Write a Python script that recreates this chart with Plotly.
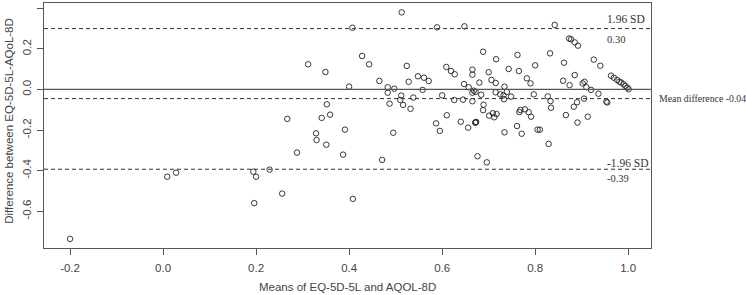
import plotly.graph_objects as go

# Means of EQ-5D-5L and AQOL-8D (x) and differences (y)
means = [-0.200, 0.009, 0.028, 0.194, 0.200, 0.196, 0.407, 0.312, 0.349, 0.428,
         0.443, 0.465, 0.400, 0.483, 0.483, 0.487, 0.352, 0.341, 0.359, 0.267,
         0.391, 0.329, 0.330, 0.351, 0.288, 0.387, 0.471, 0.229, 0.256, 0.408,
         0.513, 0.589, 0.648, 0.688, 0.524, 0.609, 0.619, 0.627, 0.665, 0.665,
         0.548, 0.561, 0.571, 0.528, 0.700, 0.716, 0.743, 0.762, 0.765, 0.706,
         0.715, 0.680, 0.647, 0.657, 0.668, 0.672, 0.684, 0.665, 0.497, 0.558,
         0.512, 0.510, 0.538, 0.516, 0.532, 0.600, 0.626, 0.645, 0.665, 0.689,
         0.688, 0.715, 0.725, 0.734, 0.732, 0.739, 0.748, 0.733, 0.766, 0.701,
         0.709, 0.717, 0.712, 0.610, 0.640, 0.672, 0.673, 0.671, 0.587, 0.495,
         0.595, 0.656, 0.676, 0.696, 0.734, 0.761, 0.842, 0.873, 0.877, 0.885,
         0.892, 0.832, 0.800, 0.862, 0.926, 0.940, 0.782, 0.790, 0.860, 0.874,
         0.885, 0.906, 0.902, 0.910, 0.920, 0.936, 0.963, 0.969, 0.976, 0.981,
         0.985, 0.990, 0.994, 0.998, 1.001, 0.797, 0.827, 0.833, 0.834, 0.890,
         0.883, 0.905, 0.953, 0.955, 0.768, 0.778, 0.786, 0.791, 0.866, 0.913,
         0.891, 0.771, 0.805, 0.810, 0.829]
diffs = [-0.736, -0.430, -0.410, -0.405, -0.430, -0.560, 0.304, 0.124, 0.086, 0.165,
         0.124, 0.042, 0.014, 0.011, -0.016, -0.070, -0.073, -0.140, -0.124, -0.145,
         -0.198, -0.216, -0.249, -0.272, -0.311, -0.321, -0.347, -0.395, -0.513, -0.539,
         0.380, 0.306, 0.311, 0.186, 0.116, 0.111, 0.091, 0.075, 0.098, 0.073,
         0.065, 0.058, 0.042, 0.038, 0.085, 0.149, 0.101, 0.170, 0.091, 0.047,
         0.032, 0.034, 0.027, 0.011, -0.006, -0.012, -0.026, -0.016, 0.004, -0.002,
         -0.030, -0.052, -0.040, -0.076, -0.095, -0.029, -0.052, -0.050, -0.058, -0.075,
         -0.102, -0.014, -0.024, 0.014, -0.029, -0.012, -0.035, -0.048, -0.111, -0.129,
         -0.117, -0.121, -0.137, -0.127, -0.159, -0.162, -0.160, -0.164, -0.167, -0.213,
         -0.204, -0.188, -0.329, -0.359, -0.211, -0.180, 0.318, 0.251, 0.247, 0.232,
         0.216, 0.178, 0.119, 0.132, 0.147, 0.117, 0.055, 0.030, 0.043, 0.021,
         0.071, 0.038, 0.030, 0.011, -0.002, -0.021, 0.068, 0.058, 0.047, 0.038,
         0.034, 0.026, 0.017, 0.009, 0.001, -0.024, -0.034, -0.057, -0.090, -0.063,
         -0.085, -0.045, -0.060, -0.064, -0.101, -0.098, -0.112, -0.134, -0.126, -0.134,
         -0.163, -0.218, -0.198, -0.198, -0.268]

mean_diff = -0.045
upper_loa = 0.300
lower_loa = -0.393

x_ticks = [-0.2, 0.0, 0.2, 0.4, 0.6, 0.8, 1.0]
x_tick_labels = ["-0.2", "0.0", "0.2", "0.4", "0.6", "0.8", "1.0"]
y_ticks = [-0.6, -0.4, -0.2, 0.0, 0.2, 0.4]
y_tick_labels = ["-0.6", "-0.4", "-0.2", "0.0", "0.2", "0.4"]

fig = go.Figure()
fig.add_trace(go.Scatter(
    x=means, y=diffs, mode="markers",
    marker=dict(symbol="circle-open", size=5.5, color="#222222", line=dict(width=0.9)),
    showlegend=False, hoverinfo="x+y"))

# reference lines
fig.add_shape(type="line", xref="paper", x0=0, x1=1, yref="y", y0=0, y1=0,
              line=dict(color="#555555", width=1.3))
for v in [upper_loa, mean_diff, lower_loa]:
    fig.add_shape(type="line", xref="paper", x0=0, x1=1, yref="y", y0=v, y1=v,
                  line=dict(color="#333333", width=1, dash="4px,3px"))

serif = "Liberation Serif, Times New Roman, serif"
ann = [
    (0.950, 0.346, "1.96 SD", 11.5),
    (0.950, 0.248, "%.2f" % upper_loa, 10.5),
    (0.950, -0.361, "-1.96 SD", 11.5),
    (0.950, -0.438, "%.2f" % -0.39, 10.5),
]
for ax_, ay_, t, fs in ann:
    fig.add_annotation(x=ax_, y=ay_, xref="x", yref="y", text=t, showarrow=False,
                       xanchor="left", yanchor="middle",
                       font=dict(family=serif, size=fs, color="#333333"))
fig.add_annotation(x=1.0095, y=mean_diff, xref="paper", yref="y",
                   text="Mean difference %.2f" % -0.04, showarrow=False,
                   xanchor="left", yanchor="middle",
                   font=dict(family=serif, size=9.8, color="#333333"))

sans = "Liberation Sans, Arial, sans-serif"
fig.update_xaxes(range=[-0.256, 1.049], tickvals=x_ticks, ticktext=x_tick_labels,
                 automargin=False,
                 showgrid=False, zeroline=False, showline=True, mirror=True,
                 linecolor="#555555", linewidth=1.3, ticks="outside", ticklen=6,
                 tickcolor="#555555", tickfont=dict(family=sans, size=11.5, color="#444444"),
                 ticklabelstandoff=3)
fig.update_yaxes(range=[-0.781, 0.426], tickvals=y_ticks, ticktext=y_tick_labels,
                 automargin=False,
                 showgrid=False, zeroline=False, showline=True, mirror=True,
                 linecolor="#555555", linewidth=1.3, ticks="outside", ticklen=6,
                 tickcolor="#555555", tickangle=-90,
                 tickfont=dict(family=sans, size=11.5, color="#444444"),
                 ticklabelstandoff=1)

# axis titles placed as annotations
fig.add_annotation(text="Means of EQ-5D-5L and AQOL-8D", xref="paper", yref="paper",
                   x=0.5, y=-0.158, xanchor="center", yanchor="middle", showarrow=False,
                   font=dict(family=sans, size=11.5, color="#444444"))
fig.add_annotation(text="Difference between EQ-5D-5L-AQoL-8D", xref="paper", yref="paper",
                   x=-0.059, y=0.52, xanchor="center", yanchor="middle", showarrow=False,
                   textangle=-90, font=dict(family=sans, size=11.5, color="#444444"))

fig.update_layout(width=746, height=295, plot_bgcolor="white", paper_bgcolor="white",
                  margin=dict(l=44, r=95, t=3, b=47), showlegend=False)

fig.write_html("out.html", config={"displayModeBar": False},
               post_script="document.body.style.margin='0';document.body.style.overflow='hidden';")
